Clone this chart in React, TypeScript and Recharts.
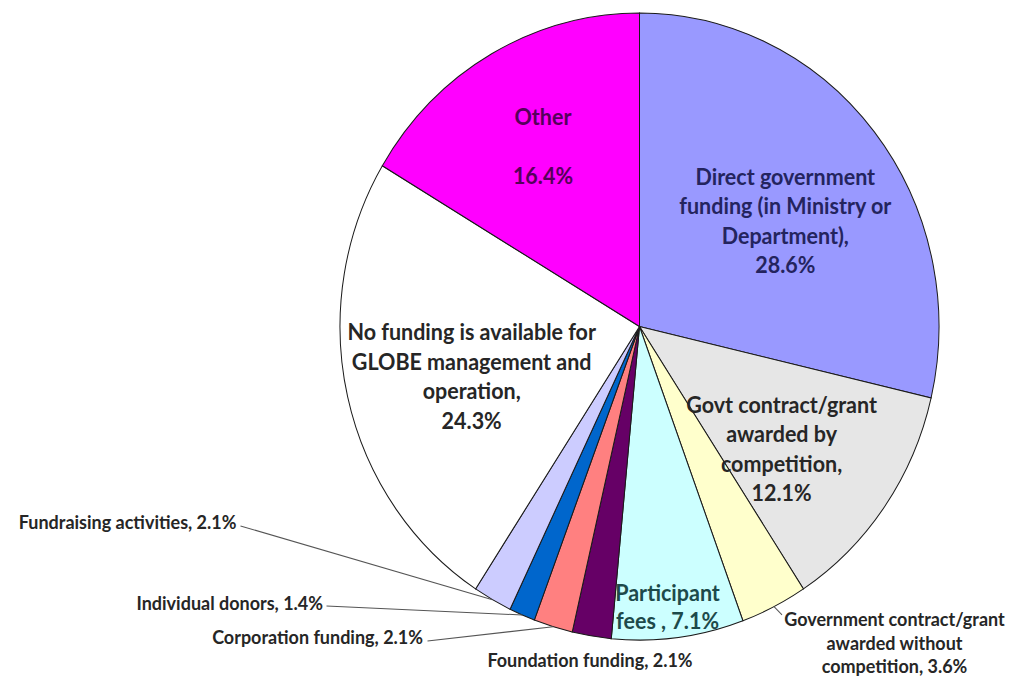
import React from 'react';
import { PieChart, Pie, Cell } from 'recharts';

// funding sources, clockwise from 12 o'clock
const categories = [
  'Direct government funding (in Ministry or Department)',
  'Govt contract/grant awarded by competition',
  'Government contract/grant awarded without competition',
  'Participant fees',
  'Foundation funding',
  'Corporation funding',
  'Individual donors',
  'Fundraising activities',
  'No funding is available for GLOBE management and operation',
  'Other',
];
const values = [28.6, 12.1, 3.6, 7.1, 2.1, 2.1, 1.4, 2.1, 24.3, 16.4];
const labelLines = [
  ['Direct government', 'funding (in Ministry or', 'Department),', '28.6%'],
  ['Govt contract/grant', 'awarded by', 'competition,', '12.1%'],
  ['Government contract/grant', 'awarded without', 'competition, 3.6%'],
  ['Participant', 'fees , 7.1%'],
  ['Foundation funding, 2.1%'],
  ['Corporation funding, 2.1%'],
  ['Individual donors, 1.4%'],
  ['Fundraising activities, 2.1%'],
  ['No funding is available for', 'GLOBE management and', 'operation,', '24.3%'],
  ['Other', '', '16.4%'],
];

const COLORS = ['#9999ff', '#e6e6e6', '#ffffcc', '#ccffff', '#660066', '#ff8080', '#0066cc', '#ccccff', '#ffffff', '#ff00ff'];

// label placement (inside: radius fraction + angle nudge, outside: offset from centre)
const PLACE: any[] = [
  { kind: 'in', r: 0.593, da: -3.6, color: '#24245e' },
  { kind: 'in', r: 0.613, da: -4.3, color: '#262626' },
  { kind: 'out', anchor: 'middle', tx: 255, ty: 279.4, lineEnd: [142.5, 275.5] },
  { kind: 'in', r: 0.897, da: -1.4, color: '#1d4a4a', lh: 26.7 },
  { kind: 'out', anchor: 'middle', tx: -49.5, ty: 318.5 },
  { kind: 'out', anchor: 'end', tx: -216.5, ty: 296.6, lineEnd: [-212, 300.4] },
  { kind: 'out', anchor: 'end', tx: -316.5, ty: 264.1, lineEnd: [-313, 267] },
  { kind: 'out', anchor: 'end', tx: -403, ty: 186.7, lineEnd: [-399, 190.5] },
  { kind: 'in', r: 0.582, da: 2.7, color: '#262626' },
  { kind: 'in', r: 0.659, da: -0.3, color: '#55005a' },
];

const FONT = 'Lato, "Open Sans", sans-serif';
const LH_IN = 28.2;
const LH_OUT = 22.5;
const SCALE_Y = 1.047;

const data = categories.map((name, i) => ({ name, value: values[i] }));

const renderLabel = (props: any) => {
  const { cx, cy, midAngle, outerRadius, index } = props;
  const p = PLACE[index];
  const lines = labelLines[index];
  const rad = Math.PI / 180;
  if (p.kind === 'in') {
    const a = (midAngle + p.da) * rad;
    const x = cx + p.r * outerRadius * Math.cos(a);
    const y = cy - p.r * outerRadius * Math.sin(a);
    const lh = p.lh || LH_IN;
    const top = y - ((lines.length - 1) * lh) / 2;
    return (
      <g>
        {lines.map((l: string, i: number) => (
          <text key={i} x={x} y={top + i * lh} textAnchor="middle" dominantBaseline="central"
            fontFamily={FONT} fontWeight={700} fontSize={21.5} fill={p.color}>{l}</text>
        ))}
      </g>
    );
  }
  const mx = cx + outerRadius * Math.cos(-midAngle * rad);
  const my = cy + outerRadius * Math.sin(-midAngle * rad);
  return (
    <g>
      {p.lineEnd && (
        <line x1={mx} y1={my} x2={cx + p.lineEnd[0]} y2={cy + p.lineEnd[1]} stroke="#555" strokeWidth={1} />
      )}
      {lines.map((l: string, i: number) => (
        <text key={i} x={cx + p.tx} y={cy + p.ty + i * LH_OUT} textAnchor={p.anchor} dominantBaseline="central"
          fontFamily={FONT} fontWeight={700} fontSize={18} fill="#262626">{l}</text>
      ))}
    </g>
  );
};

export default function App() {
  return (
    <div style={{ width: 1008, height: 669, overflow: 'visible' }}>
      <div style={{ width: 1008, height: 640, transform: `scaleY(${SCALE_Y})`, transformOrigin: '0 0', background: '#fff' }}>
        <PieChart width={1008} height={640} margin={{ top: 0, right: 0, bottom: 0, left: 0 }}>
          <Pie
            data={data}
            dataKey="value"
            nameKey="name"
            cx={631.5}
            cy={304.2}
            outerRadius={299.5}
            startAngle={90}
            endAngle={-270}
            stroke="#1a1a1a"
            strokeWidth={1}
            label={renderLabel}
            labelLine={false}
            isAnimationActive={false}
          >
            {data.map((d, i) => (
              <Cell key={d.name} fill={COLORS[i]} />
            ))}
          </Pie>
        </PieChart>
      </div>
    </div>
  );
}
